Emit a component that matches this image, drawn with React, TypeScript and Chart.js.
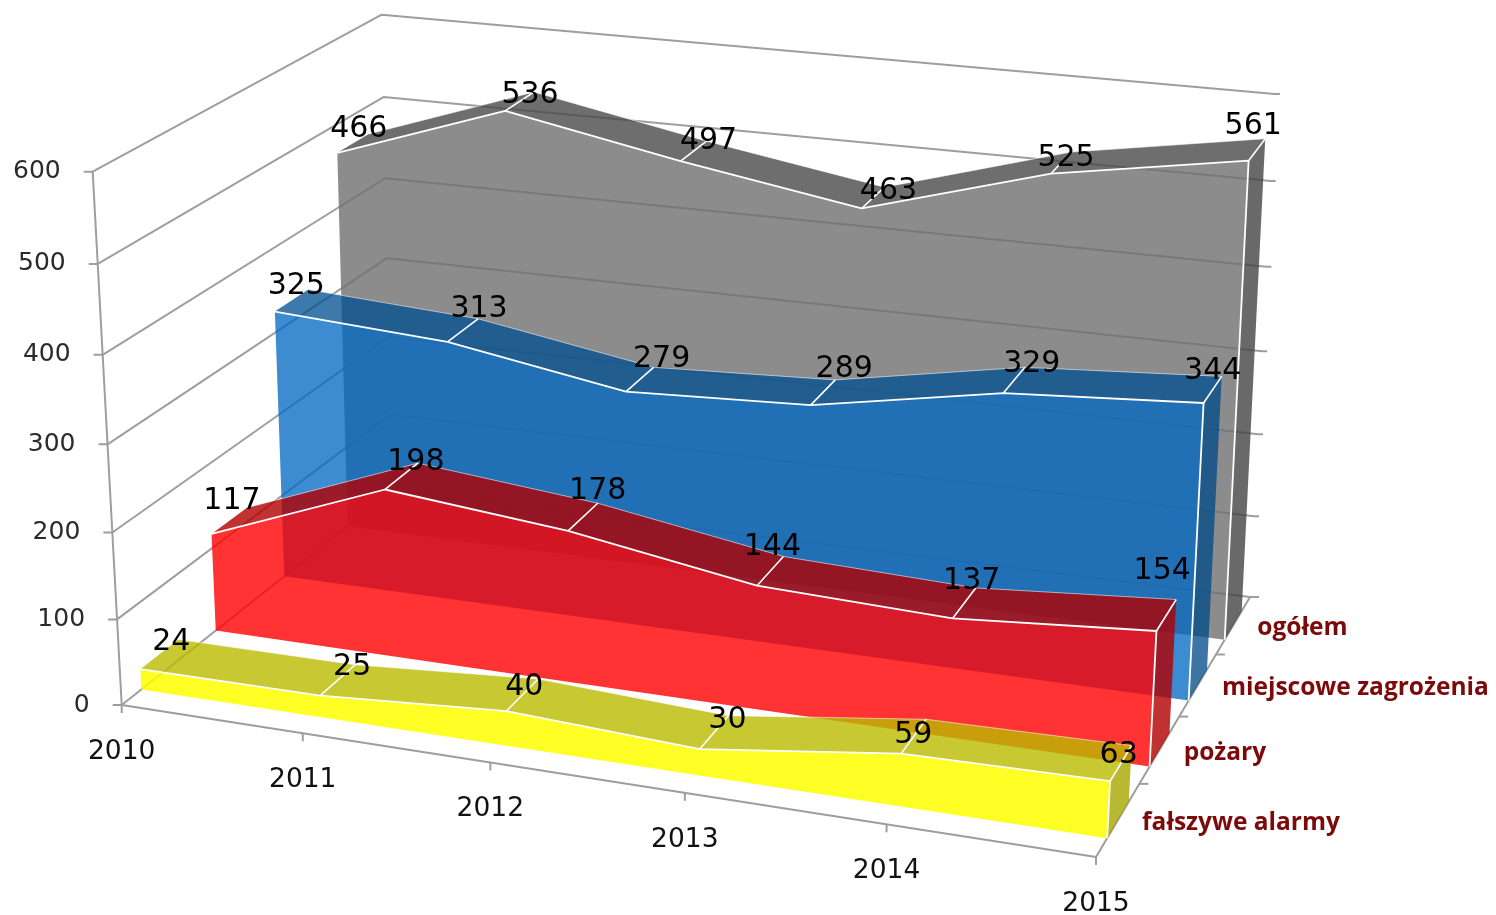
import React, { useEffect, useRef } from "react";
import { Chart, registerables } from "chart.js";

Chart.register(...registerables);

const years = ["2010", "2011", "2012", "2013", "2014", "2015"];
const depthNames = ["fałszywe alarmy", "pożary", "miejscowe zagrożenia", "ogółem"];
const ogolem = [466, 536, 497, 463, 525, 561];
const miejscowe = [325, 313, 279, 289, 329, 344];
const pozary = [117, 198, 178, 144, 137, 154];
const falszywe = [24, 25, 40, 30, 59, 63];

type P = [number, number];
// Box corners of the 3D view, indexed [x][y][z]
const C: P[][][] = [
  [[[121.7, 705], [392, 491]], [[92.7, 171.7], [381.7, 14.7]]],
  [[[1096, 857], [1250, 597]], [[1125, 288], [1275, 94]]],
];
const D = { u: -0.087, v: -0.044, w: 0.174 };
const persp = (t: number, d: number) => (t * (1 + d)) / (1 + d * t);
const mix = (a: P, b: P, t: number): P => [a[0] + (b[0] - a[0]) * t, a[1] + (b[1] - a[1]) * t];
function project(u: number, v: number, w: number): P {
  const a = persp(u, D.u), b = persp(v, D.v), c = persp(w, D.w);
  const p0 = mix(mix(C[0][0][0], C[1][0][0], a), mix(C[0][1][0], C[1][1][0], a), b);
  const p1 = mix(mix(C[0][0][1], C[1][0][1], a), mix(C[0][1][1], C[1][1][1], a), b);
  return mix(p0, p1, c);
}

// Hand placement of the value labels relative to each slab's rear edge, by depth
const labelDx = [
  [-7, -3, -14, -1, -13, -13],
  [-15, -2, 0, -11, -4, -14],
  [-12, 1, 8, 9, 7, -9],
  [-10, -4, 2, 4, -5, -12],
];
const labelDy = [
  [3, 2, 8, 5, 16, 10],
  [-6, -1, -12, -9, -7, -28],
  [-3, -10, -8, -11, -3, -5],
  [-5, 3, 0, 4, 6, -13],
];

const AXIS = "#9e9e9e";
const plugin = {
  id: "view3d",
  afterDatasetsDraw(chart: any) {
    const { ctx, chartArea: A, scales } = chart;
    const X = scales.x, Y = scales.y, Z = scales.z;
    const nu = (px: number) => (px - A.left) / (A.right - A.left);
    const nv = (py: number) => (A.bottom - py) / (A.bottom - A.top);
    const uOf = (i: number) => nu(X.getPixelForValue(i));
    const vOf = (val: number) => nv(Y.getPixelForValue(val));
    const wOf = (i: number) => nu(Z.getPixelForValue(i));
    const poly = (pts: P[], fill?: string) => {
      ctx.beginPath();
      pts.forEach((p, i) => (i ? ctx.lineTo(p[0], p[1]) : ctx.moveTo(p[0], p[1])));
      if (fill) { ctx.closePath(); ctx.fillStyle = fill; ctx.fill(); }
    };
    const stroke = (pts: P[], color: string, width: number) => {
      poly(pts);
      ctx.strokeStyle = color; ctx.lineWidth = width; ctx.stroke();
    };
    ctx.save();
    ctx.lineJoin = "round";

    // walls and axes
    const yTicks = Y.ticks.map((t: any) => t.value);
    yTicks.forEach((t: number) => {
      const v = vOf(t);
      const a = project(0, v, 0), b = project(0, v, 1), c = project(1, v, 1);
      stroke([[a[0] - 9, a[1]], a, b, c, [c[0] + 5, c[1]]], AXIS, 2);
    });
    stroke([project(0, 0, 0), project(0, 1, 0)], AXIS, 2);
    stroke([project(0, 0, 0), project(1, 0, 0), project(1, 0, 1)], AXIS, 2);
    years.forEach((_, i) => {
      const p = project(uOf(i), 0, 0);
      stroke([p, [p[0], p[1] + 8]], AXIS, 2);
    });
    depthNames.forEach((_, i) => {
      const p = project(1, 0, wOf(i + 0.5));
      stroke([p, [p[0] + 9, p[1]]], AXIS, 2);
    });

    // slabs, back to front
    chart.data.datasets.forEach((ds: any) => {
      const wf = wOf(ds.depth - 0.25), wb = wOf(ds.depth + 0.25);
      const front: P[] = ds.data.map((val: number, i: number) => project(uOf(i), vOf(val), wf));
      const back: P[] = ds.data.map((val: number, i: number) => project(uOf(i), vOf(val), wb));
      const last = ds.data.length - 1;
      const fb0 = project(uOf(0), 0, wf), fbN = project(uOf(last), 0, wf), bbN = project(uOf(last), 0, wb);
      poly([...front, ...[...back].reverse()], ds.topColor);
      poly([front[last], back[last], bbN, fbN], ds.sideColor);
      poly([...front, fbN, fb0], ds.frontColor);
      stroke(back, "rgba(255,255,255,0.55)", 1);
      for (let i = 1; i <= last; i++) stroke([front[i], back[i]], "#fff", 1.6);
      stroke([...front, fbN], "#fff", 1.8);
    });

    // value labels
    ctx.textBaseline = "middle";
    ctx.fillStyle = "#000";
    ctx.font = '30px "DejaVu Sans"';
    ctx.textAlign = "center";
    chart.data.datasets.forEach((ds: any) => {
      const wb = wOf(ds.depth + 0.25);
      ds.data.forEach((val: number, i: number) => {
        const p = project(uOf(i), vOf(val), wb);
        ctx.fillText(String(val), p[0] + labelDx[ds.depth][i], p[1] + labelDy[ds.depth][i]);
      });
    });

    // axis labels
    ctx.fillStyle = "#2b2b2b";
    ctx.font = '25px "DejaVu Sans"';
    ctx.textAlign = "right";
    yTicks.forEach((t: number) => {
      const p = project(0, vOf(t), 0);
      ctx.fillText(String(t), p[0] - 32, p[1]);
    });
    ctx.fillStyle = "#111";
    ctx.font = '26.5px "DejaVu Sans"';
    ctx.textAlign = "center";
    years.forEach((y, i) => {
      const p = project(uOf(i), 0, 0);
      ctx.fillText(y, p[0], p[1] + 47);
    });
    ctx.fillStyle = "#7d0a0a";
    ctx.font = 'bold 24.5px "Open Sans"';
    ctx.textAlign = "left";
    depthNames.forEach((n, i) => {
      const p = project(1, 0, wOf(i));
      ctx.fillText(n, p[0] + 24, p[1] + 3);
    });
    ctx.restore();
  },
};

export default function App() {
  const ref = useRef<HTMLCanvasElement>(null);
  useEffect(() => {
    const series = (label: string, data: number[], frontColor: string, topColor: string, sideColor: string) => ({
      label, data, frontColor, topColor, sideColor,
      depth: depthNames.indexOf(label),
      xAxisID: "x", yAxisID: "y", showLine: false, pointRadius: 0,
    });
    const chart = new Chart(ref.current!, {
      type: "line",
      data: {
        labels: years,
        datasets: [
          series("ogółem", ogolem, "rgba(111,111,111,0.8)", "rgba(74,74,74,0.8)", "rgba(68,68,68,0.8)"),
          series("miejscowe zagrożenia", miejscowe, "rgba(0,103,195,0.76)", "rgba(0,79,145,0.76)", "rgba(0,75,135,0.76)"),
          series("pożary", pozary, "rgba(255,0,0,0.8)", "rgba(178,0,0,0.8)", "rgba(178,0,0,0.8)"),
          series("fałszywe alarmy", falszywe, "rgba(255,255,0,0.85)", "rgba(186,186,0,0.8)", "rgba(166,166,0,0.8)"),
        ] as any,
      },
      options: {
        animation: false,
        responsive: false,
        layout: { padding: 0 },
        plugins: { legend: { display: false }, tooltip: { enabled: false } },
        scales: {
          x: { type: "category", display: false, offset: false },
          y: { type: "linear", display: false, min: 0, max: 600, ticks: { stepSize: 100 } },
          z: { type: "category", axis: "x", position: "bottom", display: false, offset: true, labels: depthNames },
        } as any,
      },
      plugins: [plugin as any],
    });
    return () => chart.destroy();
  }, []);
  return <canvas ref={ref} width={1496} height={915} style={{ position: "fixed", left: 0, top: 0 }} />;
}
